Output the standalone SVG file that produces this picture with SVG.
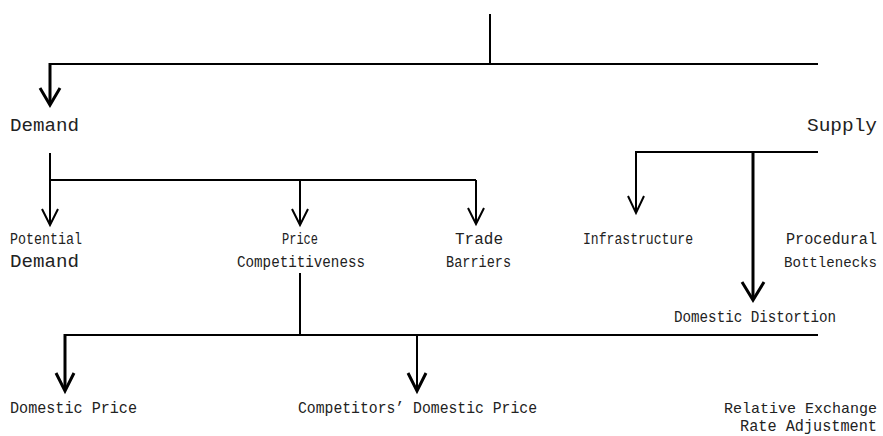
<svg xmlns="http://www.w3.org/2000/svg" width="883" height="436" viewBox="0 0 883 436">
<style>
  .lbl { font-family: "Liberation Mono", "Courier New", monospace; font-size: 16px; fill: #222; }
  .big { font-size: 18px; }
  .sm { font-size: 15px; }
  .ln { stroke: #000; stroke-width: 2; fill: none; }
  .thick { stroke: #000; stroke-width: 3; fill: none; }
  .head { stroke: #000; stroke-width: 3; fill: none; stroke-linejoin: miter; }
  .headthin { stroke: #000; stroke-width: 2; fill: none; }
</style>
<rect width="883" height="436" fill="#fff"/>
<g id="connectors">
  <line class="ln" x1="490" y1="14" x2="490" y2="64"/>
  <line class="ln" x1="49" y1="64" x2="818" y2="64"/>
  <line class="thick" x1="50" y1="63" x2="50" y2="104"/>
  <polyline class="head" points="40,88 50,105 60,88"/>

  <line class="ln" x1="50" y1="153" x2="50" y2="224"/>
  <line class="ln" x1="50" y1="180" x2="476" y2="180"/>
  <line class="ln" x1="300" y1="180" x2="300" y2="224"/>
  <line class="ln" x1="476" y1="180" x2="476" y2="224"/>
  <polyline class="headthin" points="42,209 50,225 58,209"/>
  <polyline class="headthin" points="292,209 300,225 308,209"/>
  <polyline class="headthin" points="468,208 476,224 484,208"/>

  <line class="ln" x1="636" y1="152" x2="818" y2="152"/>
  <line class="ln" x1="636" y1="151" x2="636" y2="212"/>
  <polyline class="headthin" points="628,196 636,213 644,196"/>
  <line class="thick" x1="753" y1="152" x2="753" y2="299"/>
  <polyline class="head" points="742,282 753,300 764,282"/>

  <line class="ln" x1="300" y1="273" x2="300" y2="335"/>
  <line class="ln" x1="65" y1="335" x2="818" y2="335"/>
  <line class="thick" x1="65" y1="334" x2="65" y2="390"/>
  <polyline class="head" points="56,373 65,391 74,373"/>
  <line class="ln" x1="417" y1="335" x2="417" y2="390"/>
  <polyline class="head" points="408,373 417,391 426,373"/>
</g>
<g id="n-demand"><text class="lbl big" x="10" y="131" textLength="69" lengthAdjust="spacingAndGlyphs">Demand</text></g>
<g id="n-supply"><text class="lbl big" x="807" y="131" textLength="70" lengthAdjust="spacingAndGlyphs">Supply</text></g>
<g id="n-potential">
  <text class="lbl" x="10" y="244" textLength="72" lengthAdjust="spacingAndGlyphs">Potential</text>
  <text class="lbl big" x="10" y="267" textLength="69" lengthAdjust="spacingAndGlyphs">Demand</text>
</g>
<g id="n-price">
  <text class="lbl" x="282" y="244" textLength="36" lengthAdjust="spacingAndGlyphs">Price</text>
  <text class="lbl" x="237" y="267" textLength="128" lengthAdjust="spacingAndGlyphs">Competitiveness</text>
</g>
<g id="n-trade">
  <text class="lbl" x="455" y="244" textLength="48" lengthAdjust="spacingAndGlyphs">Trade</text>
  <text class="lbl" x="446" y="267" textLength="65" lengthAdjust="spacingAndGlyphs">Barriers</text>
</g>
<g id="n-infra"><text class="lbl" x="583" y="244" textLength="110" lengthAdjust="spacingAndGlyphs">Infrastructure</text></g>
<g id="n-procedural">
  <text class="lbl" x="786" y="244" textLength="91" lengthAdjust="spacingAndGlyphs">Procedural</text>
  <text class="lbl sm" x="784" y="267" textLength="93" lengthAdjust="spacingAndGlyphs">Bottlenecks</text>
</g>
<g id="n-distortion"><text class="lbl" x="674" y="322" textLength="162" lengthAdjust="spacingAndGlyphs">Domestic Distortion</text></g>
<g id="n-domprice"><text class="lbl" x="10" y="413" textLength="127" lengthAdjust="spacingAndGlyphs">Domestic Price</text></g>
<g id="n-compprice"><text class="lbl" x="298" y="413" textLength="239" lengthAdjust="spacingAndGlyphs">Competitors’ Domestic Price</text></g>
<g id="n-exchange">
  <text class="lbl sm" x="724" y="413" textLength="153" lengthAdjust="spacingAndGlyphs">Relative Exchange</text>
  <text class="lbl" x="740" y="431" textLength="137" lengthAdjust="spacingAndGlyphs">Rate Adjustment</text>
</g>
</svg>
